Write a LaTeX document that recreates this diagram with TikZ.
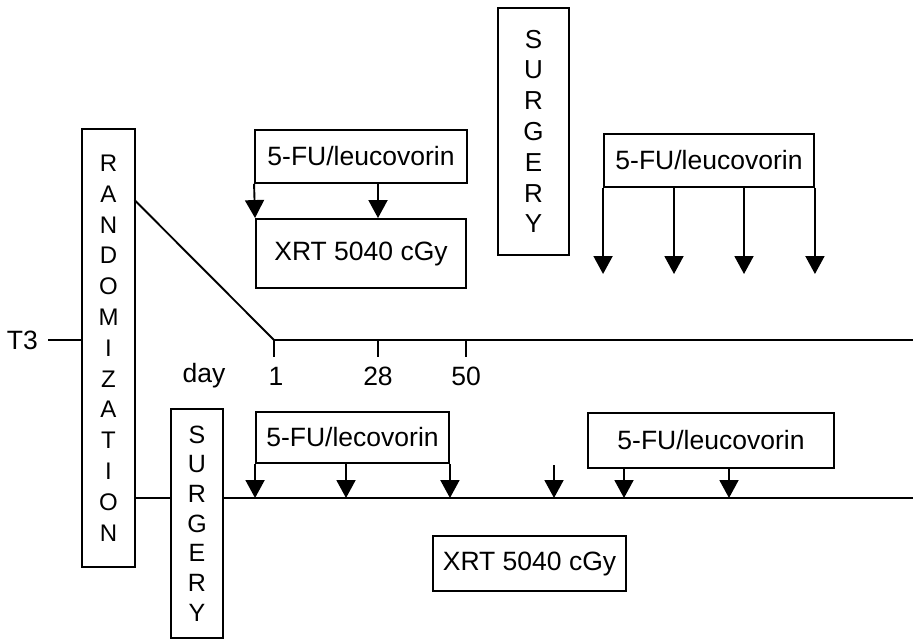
\documentclass[tikz,border=0pt]{standalone}
\usepackage{fontspec}
\setmainfont{Liberation Sans}
\usetikzlibrary{arrows.meta}
\begin{document}
\begin{tikzpicture}[x=1pt,y=-1pt,
  ln/.style={line width=1.9pt},
  box/.style={draw,line width=1.9pt,inner sep=0pt,font=\fontsize{26.5}{30}\selectfont},
  vbox/.style={draw,line width=1.9pt,inner sep=0pt,align=center},
  lbl/.style={inner sep=0pt,font=\fontsize{26.5}{30}\selectfont},
  arr/.style={line width=1.9pt,-{Triangle[width=19pt,length=18pt]}}]
\useasboundingbox (0,0) rectangle (913,641);
% randomization
\node[vbox,minimum width=53pt,minimum height=438pt,font=\fontsize{24}{30.8}\selectfont] (rand) at (108.5,348)
  {R\\A\\N\\D\\O\\M\\I\\Z\\A\\T\\I\\O\\N};
\node[lbl,anchor=east] (t3) at (38,340) {T3};
\draw[ln] ([xshift=10pt]t3.east) -- (t3.east -| rand.west);
% top arm
\coordinate (day1) at (274,340);
\coordinate (topend) at (913,340);
\coordinate (rtop) at (134.5,200);
\draw[ln] (rtop) -- (day1) -- (topend);
\coordinate (t28) at (378,340);
\coordinate (t50) at (466,340);
\draw[ln] (day1) -- ++(0,17);
\draw[ln] (t28) -- ++(0,17);
\draw[ln] (t50) -- ++(0,17);
\node[lbl] (lday) at (204,376) {day};
\node[lbl] (l1) at (276,376) {1};
\node[lbl] (l28) at (378,376) {28};
\node[lbl] (l50) at (466,376) {50};
\node[box,minimum width=212pt,minimum height=53pt] (fa) at (361,156.5) {5-FU/leucovorin};
\node[box,minimum width=210pt,minimum height=69pt] (xa) at (361,253.5) {XRT 5040 cGy};
\draw[arr] (fa.south west) -- (xa.north west);
\draw[arr] (fa.south -| t28) -- (xa.north -| t28);
\node[vbox,minimum width=71pt,minimum height=247pt,font=\fontsize{26}{30.8}\selectfont] (sa) at (533.5,131.5)
  {S\\U\\R\\G\\E\\R\\Y};
\node[box,minimum width=210pt,minimum height=53pt] (fb) at (709,160.5) {5-FU/leucovorin};
\coordinate (tipb) at (709,274);
\draw[arr] (fb.south west) -- (fb.south west |- tipb);
\draw[arr] (fb.south -| 674,0) -- (674,274);
\draw[arr] (fb.south -| 744,0) -- (744,274);
\draw[arr] (fb.south east) -- (fb.south east |- tipb);
% bottom arm
\node[vbox,minimum width=52pt,minimum height=229pt,font=\fontsize{25}{29.7}\selectfont] (sb) at (197,523.5)
  {S\\U\\R\\G\\E\\R\\Y};
\coordinate (bline) at (913,498);
\draw[ln] (rand.east |- bline) -- (sb.west |- bline);
\draw[ln] (sb.east |- bline) -- (bline);
\node[box,minimum width=193pt,minimum height=51pt] (fc) at (352.5,437.5) {5-FU/lecovorin};
\draw[arr] (fc.south west) -- (fc.south west |- bline);
\draw[arr] (fc.south -| 346,0) -- (346,498);
\draw[arr] (fc.south east) -- (fc.south east |- bline);
\coordinate (lone) at (554,465);
\draw[arr] (lone) -- (lone |- bline);
\node[box,minimum width=246pt,minimum height=55pt] (fd) at (711,440.5) {5-FU/leucovorin};
\draw[arr] (fd.south -| 624,0) -- (624,498);
\draw[arr] (fd.south -| 729,0) -- (729,498);
\node[box,minimum width=193pt,minimum height=55pt] (xb) at (529.5,563.5) {XRT 5040 cGy};
\end{tikzpicture}
\end{document}
